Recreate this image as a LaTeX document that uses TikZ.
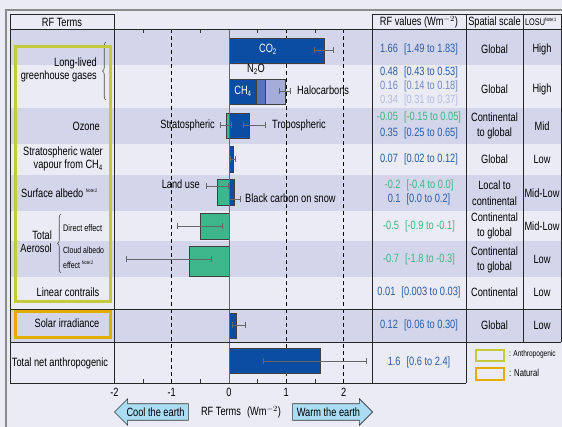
\documentclass[tikz,border=0pt]{standalone}
\usepackage{fontspec}
\setmainfont{Liberation Sans}[FakeStretch=0.77]
\usetikzlibrary{arrows.meta,shapes.arrows,decorations.pathreplacing,positioning}

\definecolor{bgpage}{HTML}{EBEBF6}
\definecolor{banddark}{HTML}{D3D6EA}
\definecolor{gasblue}{HTML}{0B4DA2}
\definecolor{nitro}{HTML}{5A72B6}
\definecolor{halo}{HTML}{A4ACD8}
\definecolor{aerogreen}{HTML}{3CB68A}
\definecolor{valblue}{HTML}{2A5DA8}
\definecolor{valgreen}{HTML}{3DB57F}
\definecolor{valmid}{HTML}{7386C4}
\definecolor{vallight}{HTML}{B4BBDD}
\definecolor{anthro}{HTML}{C5C93C}
\definecolor{natural}{HTML}{E2AC00}
\definecolor{arrowfill}{HTML}{AADDF3}
\definecolor{framegray}{HTML}{8C8C8C}

% forcing value (W m^-2) -> x position on the bar chart
\newcommand{\rf}[1]{{229+57.3*(#1)}}
\newcommand{\notesup}[1]{\textsuperscript{\fontsize{5}{5}\selectfont #1}}

\begin{document}
\begin{tikzpicture}[x=1pt,y=-1pt,
  every node/.style={inner sep=0pt, font=\fontsize{12}{13}\selectfont},
  rule/.style={draw=black!85, line width=0.6pt},
  bar/.style={draw=black!75, line width=0.5pt},
  errbar/.style={draw=black!60, line width=0.8pt, {Bar[width=6pt]}-{Bar[width=6pt]}},
  guide/.style={draw=black, line width=0.9pt, dash pattern=on 4pt off 3pt},
  tick/.style={draw=black!80, line width=0.8pt},
  term/.style={align=right, anchor=east},
  small/.style={font=\fontsize{9.5}{15}\selectfont},
  cell/.style={align=center, font=\fontsize{12}{15.5}\selectfont},
  earth/.style={single arrow, draw=black!80, fill=arrowfill, line width=0.6pt,
    inner xsep=3pt, inner ysep=3.5pt, single arrow head extend=5pt,
    font=\fontsize{12}{13}\selectfont},
  ]
\useasboundingbox (0,0) rectangle (562,427);
\fill[bgpage] (0,0) rectangle (562,427);

% row bands
\foreach \top/\bot in {29/65,108/144,175/211,241/277,309/342}
  \fill[banddark] (10,\top) rectangle (562,\bot);

% outer frame
\draw[framegray, line width=2pt] (6,427) -- (6,10) -- (562,10);

% guide lines and ticks
\foreach \v in {-1,1,2}
  \draw[guide] (\rf{\v},29) -- (\rf{\v},383);
\foreach \v in {-1.5,-0.5,0.5,1.5} {
  \draw[tick] (\rf{\v},29) -- (\rf{\v},33);
  \draw[tick] (\rf{\v},383) -- (\rf{\v},379);
}

% bars
\draw[bar, fill=gasblue] (229,38) rectangle (\rf{1.66},63);
\draw[bar, fill=gasblue] (229,79) rectangle (\rf{0.48},104);
\draw[bar, fill=nitro] (\rf{0.48},79) rectangle (\rf{0.64},104);
\draw[bar, fill=halo] (\rf{0.64},79) rectangle (\rf{0.98},104);
\draw[bar, fill=gasblue] (229,113) rectangle (\rf{0.35},138);
\draw[bar, fill=aerogreen] (\rf{-0.05},113) rectangle (229,138);
\draw[bar, fill=gasblue] (229,146) rectangle (\rf{0.07},172);
\draw[bar, fill=gasblue] (229,179) rectangle (\rf{0.1},205);
\draw[bar, fill=aerogreen] (\rf{-0.2},179) rectangle (229,205);
\draw[bar, fill=aerogreen] (\rf{-0.5},213) rectangle (229,239);
\draw[bar, fill=aerogreen] (\rf{-0.7},246) rectangle (229,276);
\draw[bar, fill=gasblue] (229,285) rectangle (\rf{0.01},300);
\draw[bar, fill=gasblue] (229,313) rectangle (\rf{0.12},338);
\draw[bar, fill=gasblue] (229,348) rectangle (\rf{1.6},373);

% zero line
\draw[black!60, line width=1pt] (229,29) -- (229,383);

% uncertainty ranges
\draw[errbar] (\rf{1.49},50) -- (\rf{1.83},50);
\draw[errbar] (\rf{0.88},91) -- (\rf{1.08},91);
\draw[errbar] (\rf{-0.15},125) -- (\rf{0.05},125);
\draw[errbar] (\rf{0.25},125) -- (\rf{0.65},125);
\draw[errbar] (\rf{0.02},159) -- (\rf{0.12},159);
\draw[errbar] (\rf{-0.4},186) -- (\rf{0.0},186);
\draw[errbar] (\rf{0.0},199) -- (\rf{0.2},199);
\draw[errbar] (\rf{-0.9},226) -- (\rf{-0.1},226);
\draw[errbar] (\rf{-1.8},259) -- (\rf{-0.3},259);
\draw[errbar] (\rf{0.06},325) -- (\rf{0.30},325);
\draw[errbar] (\rf{0.6},361) -- (\rf{2.4},361);

% bar labels
\node[text=white] (co2) at (268,49) {CO\textsubscript{2}};
\node[text=white] (ch4) at (243,91) {CH\textsubscript{4}};
\node (n2o) at (256,69) {N\textsubscript{2}O};
\node[anchor=west] (halocarb) at (297,90) {Halocarbons};
\node[anchor=east] (strato) at (215,125) {Stratospheric};
\node[anchor=west] (tropo) at (272,125) {Tropospheric};
\node[anchor=east] (landuse) at (200,184) {Land use};
\node[anchor=west] (bcsnow) at (245,198) {Black carbon on snow};

% table rules
\draw[rule] (10,383) -- (10,14) -- (114,14) -- (114,383);
\draw[rule] (372,383) -- (372,14) -- (561,14) -- (561,342);
\draw[rule] (466,14) -- (466,383);
\draw[rule] (523,14) -- (523,342);
\draw[rule] (10,29) -- (561,29);
\draw[rule] (10,309) -- (561,309);
\draw[rule] (10,342) -- (561,342);
\draw[rule] (10,383) -- (466,383);

% headers
\node (hterms) at (62,22) {RF Terms};
\node (hvalues) at (419,22) {RF values (Wm$^{-2}$)};
\node (hscale) at (494.5,22) {Spatial scale};
\node[font=\fontsize{9.5}{10}\selectfont] (hlosu) at (541,22) {LOSU\notesup{Note:1}};

% forcing terms
\node[term] (llghg) at (97,70) {Long-lived\\greenhouse gases};
\draw[black!70, line width=0.6pt, decorate, decoration={brace, amplitude=3.5pt}]
  (106,100) -- (106,42);
\node[term] (ozone) at (100,126) {Ozone};
\node[term] (swv) at (103,159) {Stratospheric water\\vapour from CH\textsubscript{4}};
\node[anchor=west] (albedo) at (21,193) {Surface albedo \notesup{Note:2}};
\node[term] (aerosol) at (52,242) {Total\\Aerosol};
\draw[black!70, line width=0.6pt, decorate, decoration={brace, amplitude=3.5pt}]
  (61,273) -- (61,214);
\node[small, anchor=west] (direct) at (63,228) {Direct effect};
\node[small, anchor=west, align=left, font=\fontsize{9}{15}\selectfont] (cloud) at (63,258) {Cloud albedo\\effect \notesup{Note:2}};
\node (contrails) at (68,292) {Linear contrails};
\node (solar) at (67,323) {Solar irradiance};
\node (total) at (60,363) {Total net anthropogenic};

% anthropogenic / natural groups
\draw[anthro, line width=3pt] (15,47) rectangle (110,302);
\draw[natural, line width=3pt] (15,312) rectangle (110,338);

% RF values
\node[text=valblue] (v1) at (419,49) {1.66\enspace[1.49 to 1.83]};
\node[text=valblue] (v2a) at (419,72) {0.48\enspace[0.43 to 0.53]};
\node[text=valmid] (v2b) at (419,86) {0.16\enspace[0.14 to 0.18]};
\node[text=vallight] (v2c) at (419,100) {0.34\enspace[0.31 to 0.37]};
\node[text=valgreen] (v3a) at (419,117) {-0.05\enspace[-0.15 to 0.05]};
\node[text=valblue] (v3b) at (419,133) {0.35\enspace[0.25 to 0.65]};
\node[text=valblue] (v4) at (419,159) {0.07\enspace[0.02 to 0.12]};
\node[text=valgreen] (v5a) at (419,185) {-0.2\enspace[-0.4 to 0.0]};
\node[text=valblue] (v5b) at (419,199) {0.1\enspace[0.0 to 0.2]};
\node[text=valgreen] (v6) at (419,226) {-0.5\enspace[-0.9 to -0.1]};
\node[text=valgreen] (v7) at (419,259) {-0.7\enspace[-1.8 to -0.3]};
\node[text=valblue] (v8) at (419,292) {0.01\enspace[0.003 to 0.03]};
\node[text=valblue] (v9) at (419,325) {0.12\enspace[0.06 to 0.30]};
\node[text=valblue] (v10) at (419,362) {1.6\enspace[0.6 to 2.4]};

% spatial scale
\node[cell] (s1) at (494.5,49) {Global};
\node[cell] (s2) at (494.5,89) {Global};
\node[cell] (s3) at (494.5,126) {Continental\\to global};
\node[cell] (s4) at (494.5,159) {Global};
\node[cell] (s5) at (494.5,193) {Local to\\continental};
\node[cell] (s6) at (494.5,226) {Continental\\to global};
\node[cell] (s7) at (494.5,260) {Continental\\to global};
\node[cell] (s8) at (494.5,292) {Continental};
\node[cell] (s9) at (494.5,325) {Global};

% level of scientific understanding
\node (l1) at (542,49) {High};
\node (l2) at (542,89) {High};
\node (l3) at (542,126) {Mid};
\node (l4) at (542,159) {Low};
\node (l5) at (542,193) {Mid-Low};
\node (l6) at (542,226) {Mid-Low};
\node (l7) at (542,259) {Low};
\node (l8) at (542,292) {Low};
\node (l9) at (542,325) {Low};

% legend
\draw[anthro, line width=2.5pt] (476,350) rectangle (504,361);
\node[anchor=west, font=\fontsize{8.5}{9}\selectfont] (lganthro) at (509,354) {: Anthropogenic};
\draw[natural, line width=2.5pt] (476,368) rectangle (504,380);
\node[anchor=west, font=\fontsize{10}{10}\selectfont] (lgnatural) at (509,373) {: Natural};

% axis
\foreach \v in {-2,-1,0,1,2}
  \node (tick\v) at (\rf{\v},392) {\v};
\node[earth, shape border rotate=180, minimum height=74pt, anchor=tip] (cool) at (114,412) {Cool the earth};
\node (axislabel) at (241,412) {RF Terms\enspace(Wm$^{-2}$)};
\node[earth, minimum height=80pt, anchor=tip] (warm) at (373,412) {Warm the earth};
\end{tikzpicture}
\end{document}
